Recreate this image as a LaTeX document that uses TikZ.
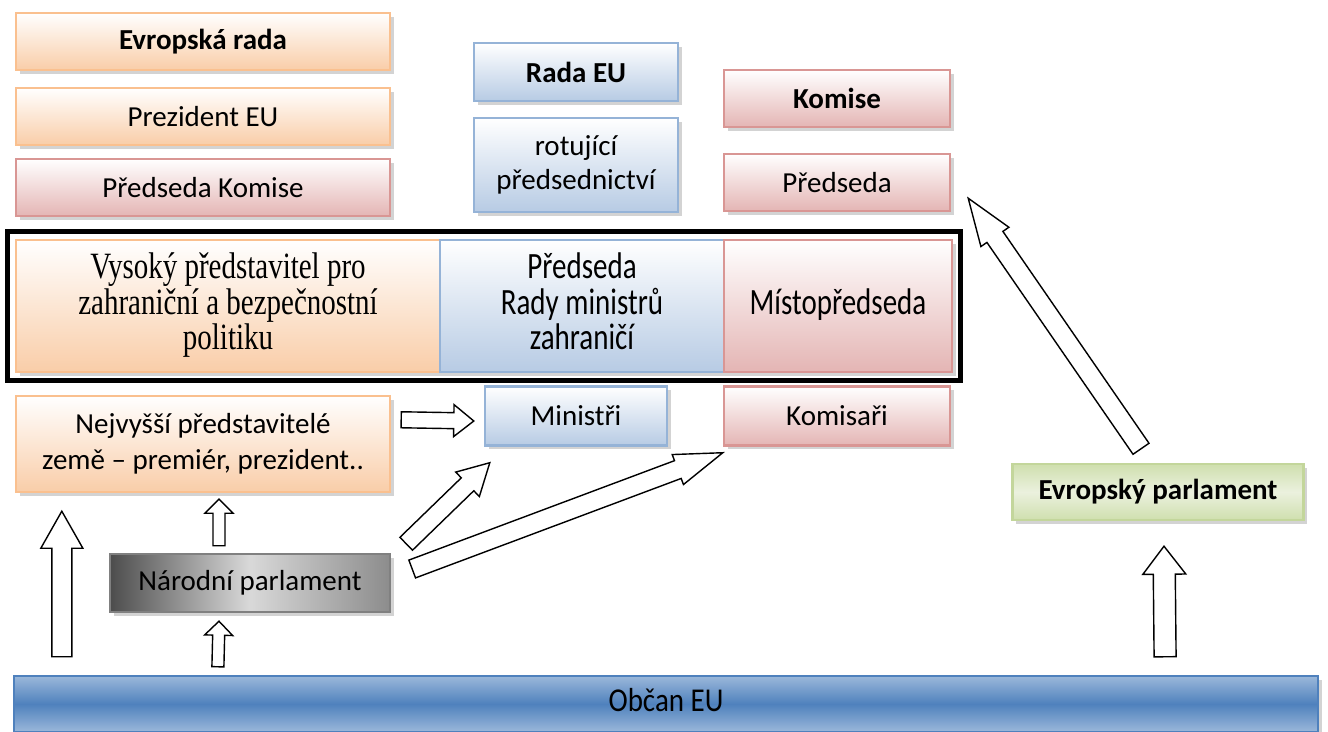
\documentclass[tikz,border=0pt]{standalone}
\usepackage{fontspec}
\usepackage{graphicx}
\setmainfont{Carlito}
\newfontfamily\timesfont{Liberation Serif}
\usetikzlibrary{calc,fit,shadows}

\definecolor{orangeline}{HTML}{FAC08F}
\definecolor{orangefill}{HTML}{F9CDA8}
\definecolor{redline}{HTML}{D99694}
\definecolor{redfill}{HTML}{E4B5B4}
\definecolor{blueline}{HTML}{95B3D7}
\definecolor{bluefill}{HTML}{B7CBE4}
\definecolor{greenline}{HTML}{C3D69B}
\definecolor{greenfill}{HTML}{CFDFAE}
\definecolor{greenlight}{HTML}{EBF1DE}
\definecolor{citizenline}{HTML}{4F81BD}
\definecolor{citizenlight}{HTML}{9BB8DA}

\tikzset{
	box/.style={draw, line width=1.4pt, inner sep=0pt, align=center,
		font=\fontsize{16.5pt}{19pt}\selectfont,
		drop shadow={shadow xshift=2.2pt, shadow yshift=-2.2pt, opacity=.35}},
	orangebox/.style={box, draw=orangeline, top color=white, bottom color=orangefill},
	redbox/.style={box, draw=redline, top color=white, bottom color=redfill},
	bluebox/.style={box, draw=blueline, top color=white, bottom color=bluefill},
	greenbox/.style={box, draw=greenline, top color=greenfill, bottom color=greenfill, middle color=greenlight},
	graybox/.style={box, draw=gray, left color=black!70, right color=black!45, middle color=black!15},
	citizenbox/.style={box, draw=citizenline, top color=citizenlight, bottom color=citizenlight, middle color=citizenline},
	frame/.style={draw, line width=2.8pt, inner sep=0.15cm},
	fatarr/.style={draw=black, fill=white, line width=0.8pt, line join=miter}
}

% vertically stretched text, as in the framed row
\newcommand{\tallstack}[2][1.28]{\scalebox{1}[#1]{\begin{tabular}{@{}c@{}}#2\end{tabular}}}

% hollow block arrow: from, to, half shaft, half head, head length (in px)
\newcommand{\fatarrow}[5]{%
	\draw[fatarr] let \p1=(#1), \p2=(#2), \p3=($(\p2)!#5*0.02cm!(\p1)$) in
		($(\p1)!#3*0.02cm!90:(\p2)$) -- ($(\p3)!#3*0.02cm!90:(\p2)$) -- ($(\p3)!#4*0.02cm!90:(\p2)$) -- (\p2)
		-- ($(\p3)!#4*0.02cm!-90:(\p2)$) -- ($(\p3)!#3*0.02cm!-90:(\p2)$) -- ($(\p1)!#3*0.02cm!-90:(\p2)$) -- cycle;}

\begin{document}
\begin{tikzpicture}[x=0.02cm,y=-0.02cm]
	\useasboundingbox (0,0) rectangle (1328,732);
	%========
	%Top boxes
	%========
	\node[orangebox, minimum width=7.48cm, minimum height=1.14cm] (evrada) at (203,41.5) {\textbf{Evropská rada}};
	\node[orangebox, minimum width=7.48cm, minimum height=1.14cm] (prez) at (203,116.5) {Prezident EU};
	\node[redbox, minimum width=7.48cm, minimum height=1.14cm] (predkom) at (203,187.5) {Předseda Komise};

	\node[bluebox, minimum width=4.08cm, minimum height=1.16cm] (rada) at (576,72) {\textbf{Rada EU}};
	\node[bluebox, minimum width=4.08cm, minimum height=1.88cm] (rot) at (576,165) {rotující\\předsednictví};

	\node[redbox, minimum width=4.52cm, minimum height=1.14cm] (komise) at (837,98.5) {\textbf{Komise}};
	\node[redbox, minimum width=4.52cm, minimum height=1.14cm] (pred) at (837,182.5) {Předseda};

	%========
	%Framed row
	%========
	\node[orangebox, minimum width=8.48cm, minimum height=2.64cm, font=\timesfont\fontsize{16.5pt}{14pt}\selectfont] (vys) at (228,306) {\tallstack{Vysoký představitel pro\\zahraniční a bezpečnostní\\politiku}};
	\node[bluebox, minimum width=5.68cm, minimum height=2.64cm, font=\fontsize{16.5pt}{14.4pt}\selectfont] (predrady) at (582,306) {\tallstack{Předseda\\Rady ministrů\\zahraničí}};
	\node[redbox, minimum width=4.56cm, minimum height=2.64cm] (misto) at (838,306) {\tallstack{Místopředseda}};
	\node[frame, fit=(vys)(predrady)(misto)] (ramec) {};

	%========
	%Lower boxes
	%========
	\node[orangebox, minimum width=7.48cm, minimum height=1.92cm, font=\fontsize{16.5pt}{20.4pt}\selectfont] (nejv) at (203,444) {Nejvyšší představitelé\\země – premiér, prezident..};
	\node[bluebox, minimum width=3.64cm, minimum height=1.18cm] (min) at (576,416) {Ministři};
	\node[redbox, minimum width=4.52cm, minimum height=1.18cm] (komis) at (837,416) {Komisaři};
	\node[greenbox, minimum width=5.82cm, minimum height=1.12cm] (ep) at (1158,492) {\textbf{Evropský parlament}};
	\node[graybox, minimum width=5.6cm, minimum height=1.16cm] (narod) at (250,583) {Národní parlament};
	\node[citizenbox, minimum width=26.08cm, minimum height=1.12cm] (obcan) at (666,704) {\tallstack[1.15]{Občan EU}};

	%========
	%Arrows
	%========
	\fatarrow{$(nejv.north east)+(10,25)$}{$(min.west)+(-10,5)$}{8}{16}{20}
	\fatarrow{$(obcan.north west)+(49,-18)$}{$(nejv.south west)+(47,18)$}{10}{21}{37}
	\fatarrow{$(narod.north)+(-31,-7)$}{$(nejv.south)+(16,6)$}{6}{14}{14}
	\fatarrow{$(obcan.north west)+(205,-8)$}{$(narod.south)+(-31,8)$}{6}{14}{14}
	\fatarrow{$(narod.north east)+(15,-9)$}{$(min.south west)+(6,16)$}{9}{17}{31}
	\fatarrow{$(narod.east)+(21,-14)$}{$(komis.south west)+(0,6)$}{9.5}{16}{48}
	\fatarrow{$(obcan.north east)+(-154,-18)$}{$(ep.south)+(6,25)$}{11}{21.5}{28}
	\fatarrow{$(ep.north)+(-17,-14)$}{$(pred.south east)+(17,-14)$}{9.7}{17}{47}
\end{tikzpicture}
\end{document}
